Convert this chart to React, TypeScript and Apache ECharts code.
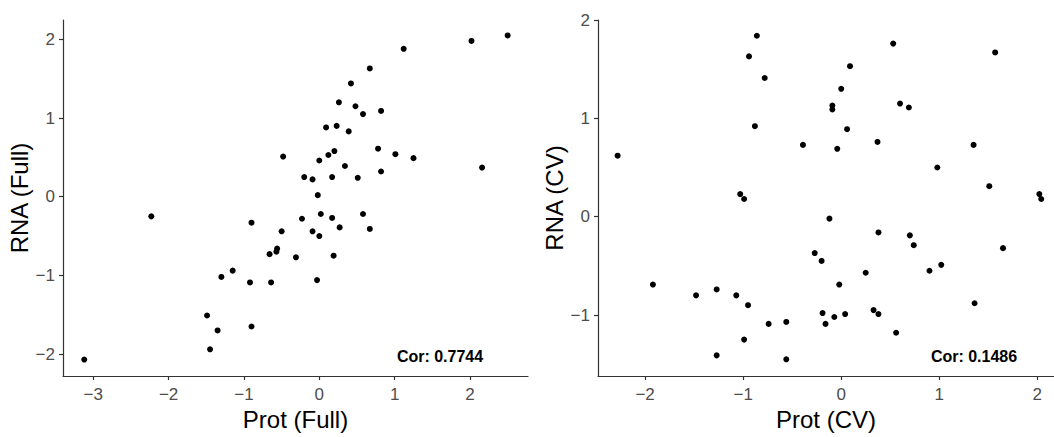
import React, { useEffect, useRef } from "react";
import * as echarts from "echarts";

// Left panel: Prot (Full) vs RNA (Full)
const protFull = [
  2.50, 2.02, 1.12, 0.67, 0.42, 0.26, 0.48, 0.58, 0.82, 0.09,
  0.23, 0.39, 0.78, 1.01, 1.25, 0.20, 0.12, 0.00, 0.34, 0.82,
  2.16, -0.20, -0.09, 0.17, 0.51, -0.02, 0.02, 0.17, 0.58, -0.23,
  -0.48, -2.23, -0.90, -0.50, -0.66, -0.56, -0.57, -0.31, -1.15, -1.30,
  -0.92, -0.64, -1.49, -1.35, -0.90, -1.45, -3.12, 0.27, 0.67, -0.09,
  0.00, 0.19, -0.03,
];
const rnaFull = [
  2.05, 1.98, 1.88, 1.63, 1.44, 1.20, 1.15, 1.05, 1.09, 0.88,
  0.90, 0.83, 0.61, 0.54, 0.49, 0.58, 0.53, 0.46, 0.39, 0.32,
  0.37, 0.25, 0.22, 0.25, 0.24, 0.02, -0.22, -0.27, -0.22, -0.28,
  0.51, -0.25, -0.33, -0.44, -0.73, -0.66, -0.70, -0.77, -0.94, -1.02,
  -1.09, -1.09, -1.51, -1.70, -1.65, -1.94, -2.07, -0.39, -0.41, -0.44,
  -0.50, -0.75, -1.06,
];

// Right panel: Prot (CV) vs RNA (CV)
const protCV = [
  -2.28, -0.86, -0.94, -0.78, -0.88, -0.39, -1.03, -0.99, 0.53, 1.57,
  0.09, 0.00, -0.09, -0.09, 0.60, 0.69, 0.06, -0.04, 0.37, 1.35,
  0.98, 1.51, 2.02, 2.04, -0.12, -1.92, -1.48, -1.27, -1.07, -0.95,
  -0.74, -0.56, -0.99, -1.27, -0.56, 0.38, 0.70, 0.74, -0.27, -0.20,
  0.25, 0.90, 1.02, 1.65, -0.02, 1.36, -0.19, -0.16, -0.07, 0.04,
  0.33, 0.38, 0.56,
];
const rnaCV = [
  0.62, 1.84, 1.63, 1.41, 0.92, 0.73, 0.23, 0.18, 1.76, 1.67,
  1.53, 1.30, 1.13, 1.09, 1.15, 1.11, 0.89, 0.69, 0.76, 0.73,
  0.50, 0.31, 0.23, 0.18, -0.02, -0.69, -0.80, -0.74, -0.80, -0.90,
  -1.09, -1.07, -1.25, -1.41, -1.45, -0.16, -0.19, -0.29, -0.37, -0.45,
  -0.57, -0.55, -0.49, -0.32, -0.69, -0.88, -0.98, -1.09, -1.02, -0.99,
  -0.95, -0.99, -1.18,
];

const leftXTicks = [-3, -2, -1, 0, 1, 2];
const leftYTicks = [-2, -1, 0, 1, 2];
const rightXTicks = [-2, -1, 0, 1, 2];
const rightYTicks = [-1, 0, 1, 2];

const corFull = "Cor: 0.7744";
const corCV = "Cor: 0.1486";

const FONT = "Liberation Sans, Arial, sans-serif";

function valueAxis(
  gridIndex: number,
  min: number,
  max: number,
  ticks: number[],
  name: string,
  isY: boolean
) {
  return {
    type: "value",
    gridIndex,
    min,
    max,
    name,
    nameLocation: "middle",
    nameGap: isY ? 28 : 27,
    nameTextStyle: { fontFamily: FONT, fontSize: 24, color: "#000" },
    splitLine: { show: false },
    axisLine: { show: true, onZero: false, lineStyle: { color: "#333", width: 1.2 } },
    axisTick: {
      show: true,
      length: 4,
      customValues: ticks,
      lineStyle: { color: "#333", width: 1.2 },
    },
    axisLabel: {
      show: true,
      customValues: ticks,
      fontFamily: FONT,
      fontSize: 17,
      color: "#4D4D4D",
      margin: isY ? 8 : 10,
      formatter: (v: number) => String(v).replace("-", "\u2212"),
    },
  };
}

export default function App() {
  const ref = useRef<HTMLDivElement>(null);
  useEffect(() => {
    if (!ref.current) return;
    const chart = echarts.init(ref.current, null, { renderer: "svg" });
    const left = protFull.map((x, i) => [x, rnaFull[i]]);
    const right = protCV.map((x, i) => [x, rnaCV[i]]);
    const textStyle = {
      fontFamily: FONT,
      fontSize: 16,
      fontWeight: "bold",
      fill: "#000",
      align: "center",
      verticalAlign: "middle",
    };
    chart.setOption({
      animation: false,
      backgroundColor: "#fff",
      grid: [
        { left: 63, top: 20, width: 465, height: 356 },
        { left: 598, top: 20, width: 456, height: 356 },
      ],
      xAxis: [
        valueAxis(0, -3.402, 2.77, leftXTicks, "Prot (Full)", false),
        valueAxis(1, -2.48, 2.17, rightXTicks, "Prot (CV)", false),
      ],
      yAxis: [
        valueAxis(0, -2.279, 2.246, leftYTicks, "RNA (Full)", true),
        valueAxis(1, -1.62, 2.0, rightYTicks, "RNA (CV)", true),
      ],
      series: [
        {
          type: "scatter",
          xAxisIndex: 0,
          yAxisIndex: 0,
          data: left,
          symbolSize: 6,
          itemStyle: { color: "#000", opacity: 1 },
        },
        {
          type: "scatter",
          xAxisIndex: 1,
          yAxisIndex: 1,
          data: right,
          symbolSize: 6,
          itemStyle: { color: "#000", opacity: 1 },
        },
      ],
      graphic: [
        { type: "text", x: 440, y: 356, style: { ...textStyle, text: corFull } },
        { type: "text", x: 974, y: 356, style: { ...textStyle, text: corCV } },
      ],
    });
    return () => chart.dispose();
  }, []);
  return (
    <div
      ref={ref}
      style={{ width: 1054, height: 437, position: "absolute", left: 0, top: 0 }}
    />
  );
}
